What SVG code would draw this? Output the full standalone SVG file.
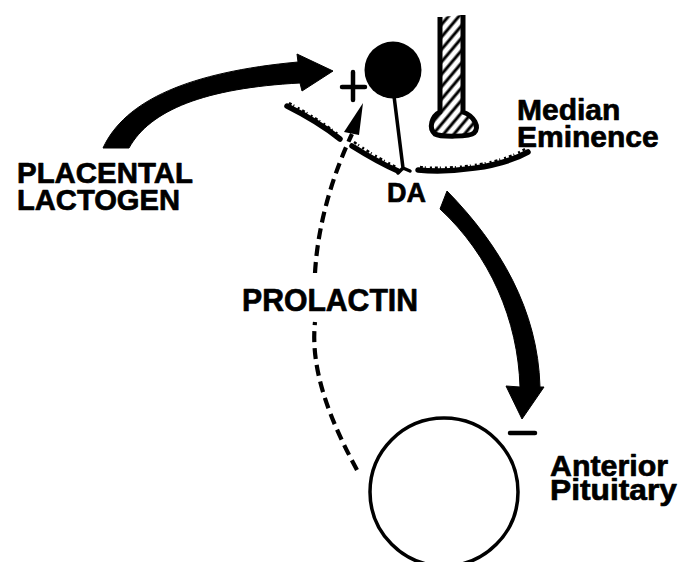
<svg xmlns="http://www.w3.org/2000/svg" width="682" height="562" viewBox="0 0 682 562">
<style>
.lbl{font-family:"Liberation Sans",Arial,sans-serif;font-weight:bold;fill:#000;stroke:#000;stroke-width:0.7;stroke-linejoin:round}
.ln{fill:none;stroke:#000;stroke-linecap:round;stroke-linejoin:round}
.dash{fill:none;stroke:#000;stroke-width:4.2;stroke-dasharray:11 6}
.me{fill:none;stroke:#000;stroke-width:5.5;stroke-linecap:round}
.fur{fill:none;stroke:#000;stroke-width:2.5;stroke-dasharray:3 2 1 4 2 3}
</style>
<defs>
<pattern id="hatch" width="8" height="8" patternUnits="userSpaceOnUse" patternTransform="rotate(40)">
<rect width="8" height="8" fill="#fff"/>
<line x1="2" y1="0" x2="2" y2="8" stroke="#000" stroke-width="3"/>
</pattern>
</defs>
<rect width="682" height="562" fill="#fff"/>

<g id="median-eminence">
<path class="me" d="M287 106 C305 115 325 127 340 139"/>
<path class="me" d="M352 146 C368 156 384 165 398 171"/>
<path class="me" d="M418 170 C450 173 500 168 528 152"/>
<path class="fur" d="M289 103 C306 112 325 124 339 135"/>
<path class="fur" d="M354 142 C368 152 384 161 396 167"/>
<path class="fur" d="M420 167 C450 170 500 165 525 149"/>
<text class="lbl" x="517" y="120" font-size="30">Median</text>
<text class="lbl" x="517" y="147" font-size="30">Eminence</text>
</g>

<g id="neuron">
<circle cx="393" cy="70" r="28.5" fill="#000"/>
<path class="ln" stroke-width="3.5" d="M394 96 L403 168 M398 173 L403 168 L410 171"/>
</g>

<g id="hatched-terminal">
<path d="M440 17 L440 112 C432 116 428 128 435 134 C440 137 470 137 474 133 C480 127 474 116 463 112 L463 15" fill="url(#hatch)" stroke="#000" stroke-width="5" stroke-linejoin="round"/>
</g>

<g id="placental-lactogen">
<text class="lbl" x="17" y="183" font-size="30" textLength="176" lengthAdjust="spacingAndGlyphs">PLACENTAL</text>
<text class="lbl" x="17" y="210" font-size="30" textLength="163" lengthAdjust="spacingAndGlyphs">LACTOGEN</text>
</g>

<g id="da">
<text class="lbl" x="387" y="202" font-size="27">DA</text>
</g>

<g id="prolactin">
<text class="lbl" x="242" y="311" font-size="32" textLength="176" lengthAdjust="spacingAndGlyphs">PROLACTIN</text>
</g>

<g id="anterior-pituitary">
<circle cx="444" cy="492" r="74" fill="none" stroke="#000" stroke-width="3.5"/>
<text class="lbl" x="550" y="476" font-size="30" textLength="118" lengthAdjust="spacingAndGlyphs">Anterior</text>
<text class="lbl" x="550" y="500" font-size="30" textLength="127" lengthAdjust="spacingAndGlyphs">Pituitary</text>
</g>

<g id="connectors">
<path d="M103 148 C125 100 190 72 298 62 L297 54 L333 71 L302 91 L300 83 C205 88 150 110 129 148 Z" fill="#000" stroke="#000" stroke-width="1" stroke-linejoin="round"/>
<path d="M447 191 C500 245 538 310 540 387 L544 387 L522 419 L506 386 L520 387 C518 320 490 255 440 209 Z" fill="#000" stroke="#000" stroke-width="1" stroke-linejoin="round"/>
<path class="dash" d="M357 470 C330 420 310 370 315 322"/>
<path class="dash" d="M315 273 C318 220 335 170 352 134"/>
<polygon points="363,103 344,132 359,135" fill="#000"/>
<path class="ln" stroke-width="4.5" d="M342 87 L365 87 M353 72 L353 100"/>
<path class="ln" stroke-width="4.5" d="M510 433 L535 433"/>
</g>
</svg>
